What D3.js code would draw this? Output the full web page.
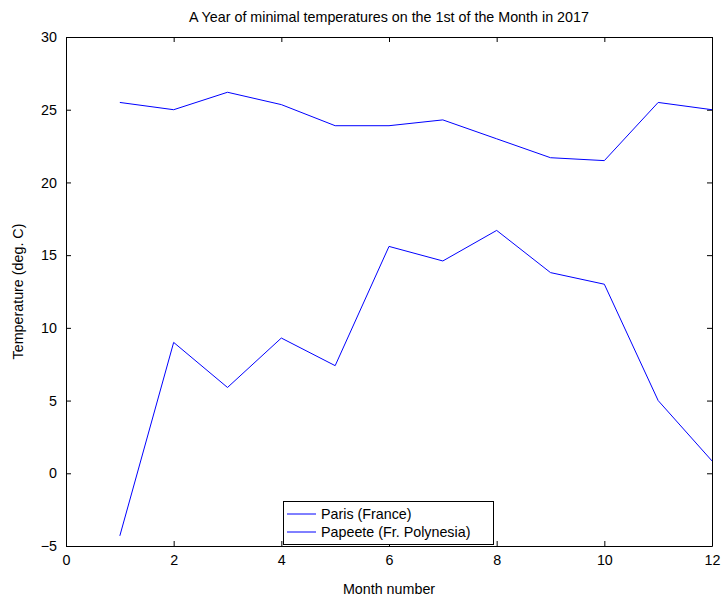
<!DOCTYPE html>
<html><head><meta charset="utf-8">
<script src="https://cdn.jsdelivr.net/npm/d3@7"></script>
<style>body{margin:0;background:#fff}svg{display:block}text{font-family:"Liberation Sans",Arial,sans-serif;fill:#000}</style>
</head><body><div id="chart"></div>
<script>
const months = [1,2,3,4,5,6,7,8,9,10,11,12];
const paris = [-4.3,9.0,5.9,9.3,7.4,15.6,14.6,16.7,13.8,13.0,5.0,0.85];
const papeete = [25.5,25.0,26.2,25.35,23.9,23.9,24.3,23.0,21.7,21.5,25.5,25.0];
const seriesNames = ["Paris (France)","Papeete (Fr. Polynesia)"];
const xTicks = [0,2,4,6,8,10,12];
const yTicks = [-5,0,5,10,15,20,25,30];
const title = "A Year of minimal temperatures on the 1st of the Month in 2017";

const W=722,H=600, L=66,R=712,T=37,B=546;
const svg=d3.select("#chart").append("svg").attr("width",W).attr("height",H);
const x=d3.scaleLinear().domain([0,12]).range([L,R]);
const y=d3.scaleLinear().domain([-5,30]).range([B,T]);
const fs=14.3;

const g=svg.append("g");
g.append("g").attr("transform",`translate(0,${B})`).call(d3.axisBottom(x).tickValues(xTicks).tickSizeInner(-5).tickSizeOuter(0).tickPadding(9));
g.append("g").attr("transform",`translate(0,${T})`).call(d3.axisTop(x).tickValues(xTicks).tickSizeInner(-5).tickSizeOuter(0).tickFormat(""));
g.append("g").attr("transform",`translate(${L},0)`).call(d3.axisLeft(y).tickValues(yTicks).tickSizeInner(-5).tickSizeOuter(0).tickPadding(9));
g.append("g").attr("transform",`translate(${R},0)`).call(d3.axisRight(y).tickValues(yTicks).tickSizeInner(-5).tickSizeOuter(0).tickFormat(""));
g.selectAll(".domain").attr("stroke","#000");
g.selectAll(".tick line").attr("stroke","#000");
g.selectAll(".tick text").attr("font-size",fs).attr("font-family","Liberation Sans, Arial, sans-serif");

const line=d3.line().x((d,i)=>x(months[i])).y(d=>y(d));
[paris,papeete].forEach(s=>{
  svg.append("path").datum(s).attr("d",line).attr("fill","none").attr("stroke","#0000ff").attr("stroke-width",1);
});

svg.append("text").attr("x",(L+R)/2).attr("y",22).attr("text-anchor","middle").attr("font-size",fs).text(title);
svg.append("text").attr("x",(L+R)/2).attr("y",594).attr("text-anchor","middle").attr("font-size",fs).text("Month number");
svg.append("text").attr("transform",`translate(23,${(T+B)/2}) rotate(-90)`).attr("text-anchor","middle").attr("font-size",fs).text("Temperature (deg. C)");

const lg=svg.append("g");
lg.append("rect").attr("x",283.5).attr("y",501.5).attr("width",210).attr("height",43).attr("fill","#fff").attr("stroke","#000");
seriesNames.forEach((n,i)=>{
  const yy=514+i*18;
  lg.append("line").attr("x1",287).attr("x2",316).attr("y1",yy).attr("y2",yy).attr("stroke","#0000ff");
  lg.append("text").attr("x",321).attr("y",yy+5).attr("font-size",fs).text(n);
});
</script></body></html>
